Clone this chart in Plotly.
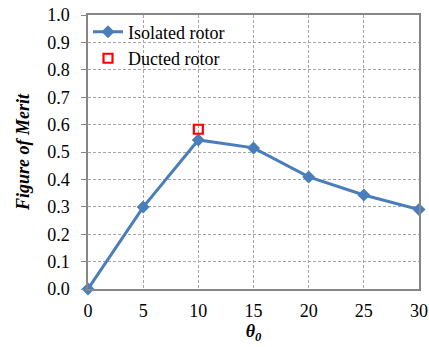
import plotly.graph_objects as go

theta = [0, 5, 10, 15, 20, 25, 30]
fom_isolated = [0.0, 0.299, 0.544, 0.515, 0.409, 0.343, 0.290]
theta_ducted = [10]
fom_ducted = [0.583]

xticks = [0, 5, 10, 15, 20, 25, 30]
yticks = [0.0, 0.1, 0.2, 0.3, 0.4, 0.5, 0.6, 0.7, 0.8, 0.9, 1.0]

FONT = "Liberation Serif"
BLUE = "#4a7ebb"

fig = go.Figure()
fig.add_trace(go.Scatter(
    x=theta, y=fom_isolated, mode="lines+markers", name="Isolated rotor",
    legendgroup="iso",
    line=dict(color=BLUE, width=3),
    marker=dict(symbol="diamond", size=10, color=BLUE),
    cliponaxis=False,
))
fig.add_trace(go.Scatter(
    x=theta_ducted, y=fom_ducted, mode="markers", name="Ducted rotor",
    legendgroup="duct",
    marker=dict(symbol="square-open", size=9, color="#ff0000", line=dict(width=2.2)),
    cliponaxis=False,
))

fig.update_layout(
    width=429, height=347,
    margin=dict(l=88, r=10, t=15, b=58, autoexpand=False),
    paper_bgcolor="white", plot_bgcolor="white",
    font=dict(family=FONT, size=18, color="black"),
    showlegend=True,
    legend=dict(x=0.0, y=1.005, xanchor="left", yanchor="top",
                bgcolor="rgba(255,255,255,0)", borderwidth=0,
                font=dict(family=FONT, size=18, color="black"),
                itemwidth=30, tracegroupgap=0),
    xaxis=dict(
        range=[0, 30], tickvals=xticks, ticktext=[str(v) for v in xticks],
        tickfont=dict(family=FONT, size=18, color="black"),
        ticklabelstandoff=5, ticklabeloverflow="allow",
        showgrid=True, gridcolor="#a6a6a6", griddash="3px,2px", gridwidth=1,
        showline=True, linecolor="#868686", linewidth=1.5, mirror=True,
        ticks="", zeroline=False,
        title=dict(text="<b><i>θ<sub>0</sub></i></b>", standoff=0,
                   font=dict(family=FONT, size=18, color="black")),
    ),
    yaxis=dict(
        range=[0, 1.0], tickvals=yticks, ticktext=[f"{v:.1f}" for v in yticks],
        tickfont=dict(family=FONT, size=18, color="black"),
        ticklabelstandoff=8, ticklabeloverflow="allow",
        showgrid=True, gridcolor="#a6a6a6", griddash="3px,2px", gridwidth=1,
        showline=True, linecolor="#868686", linewidth=1.5, mirror=True,
        ticks="outside", ticklen=5, tickcolor="#868686",
        zeroline=False,
        title=dict(text="<b><i>Figure of Merit</i></b>", standoff=13,
                   font=dict(family=FONT, size=18, color="black")),
    ),
)

fig.write_html(
    "out.html",
    config={"displayModeBar": False},
    post_script="document.body.style.margin='0';document.body.style.overflow='hidden';",
)
